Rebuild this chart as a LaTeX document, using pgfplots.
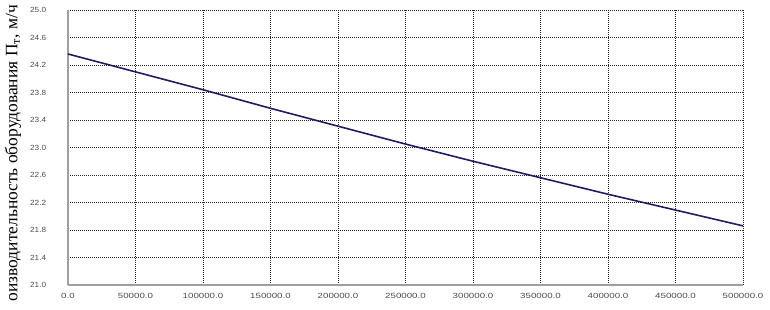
\documentclass[border=0pt]{standalone}
\usepackage{fontspec}
\setmainfont{Liberation Serif}
\newfontfamily\ticksf{Liberation Sans}
\usepackage{pgfplots}
\pgfplotsset{compat=1.18}
\definecolor{lineblue}{RGB}{30,30,95}
\begin{document}
\begin{tikzpicture}
\begin{axis}[name=ax, scale only axis, width=675bp, height=275bp,
  xmin=0, xmax=500000, ymin=21, ymax=25, enlargelimits=false,
  axis lines=left, axis line style={-, draw=gray!75, line width=2bp},
  scaled x ticks=false, scaled y ticks=false,
  xtick={0,50000,100000,150000,200000,250000,300000,350000,400000,450000,500000},
  xticklabels={0.0,50000.0,100000.0,150000.0,200000.0,250000.0,300000.0,350000.0,400000.0,450000.0,500000.0},
  ytick={21,21.4,21.8,22.2,22.6,23,23.4,23.8,24.2,24.6,25},
  yticklabels={21.0,21.4,21.8,22.2,22.6,23.0,23.4,23.8,24.2,24.6,25.0},
  major tick length=0pt,
  grid=major,
  major grid style={black!85, line width=0.9bp, dash pattern=on 1bp off 1bp},
  tick label style={font=\ticksf\fontsize{7.5}{8}\selectfont, text=black!70},
  xticklabel style={yshift=-5bp, xscale=1.3},
  yticklabel style={xshift=-18bp, xscale=1.1},
  clip=false,
]
\addplot[color=lineblue, line width=1.6bp] coordinates {
  (0,24.36) (50000,24.10) (100000,23.84) (150000,23.57) (200000,23.31)
  (250000,23.05) (300000,22.80) (350000,22.56) (400000,22.32)
  (450000,22.09) (500000,21.86)
};
\end{axis}
\node[rotate=90, anchor=east, inner sep=0pt, font=\fontsize{17.5}{18}\selectfont]
  at ([shift={(-55bp,5bp)}]ax.north west)
  {оизводительность оборудования П\textsubscript{т}, м/ч};
\pgfresetboundingbox
\useasboundingbox ([shift={(-68bp,-25bp)}]ax.south west) rectangle ([shift={(27bp,10bp)}]ax.north east);
\end{tikzpicture}
\end{document}
